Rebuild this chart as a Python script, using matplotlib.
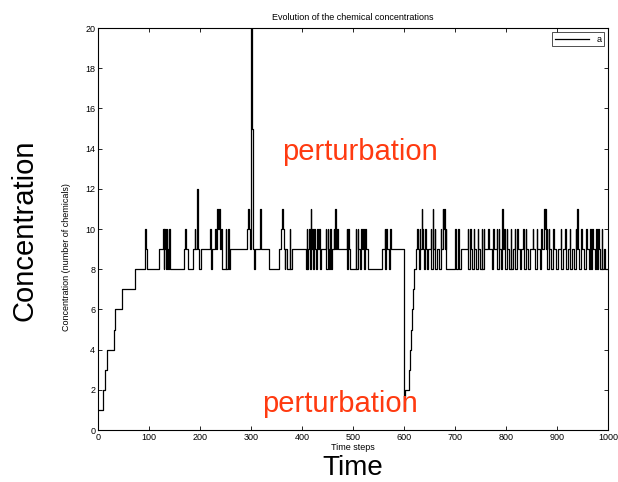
import matplotlib
matplotlib.use('Agg')
import matplotlib.pyplot as plt

plt.rcParams['font.family'] = ['Liberation Sans', 'DejaVu Sans']

# time step where a new concentration level starts, and that level
change_t = [0, 10, 13, 17, 32, 34, 47, 72, 93, 95, 97, 120, 128, 129, 130, 132, 133, 134, 135, 136,
            137, 139, 141, 169, 171, 172, 176, 186, 190, 191, 194, 197, 199, 201, 219, 221, 223, 230, 232, 234,
            236, 238, 239, 241, 243, 250, 251, 254, 256, 259, 292, 294, 296, 298, 300, 302, 304, 306, 308, 318,
            320, 335, 355, 359, 361, 362, 364, 366, 367, 370, 376, 377, 380, 407, 409, 410, 412, 414, 415, 417,
            418, 420, 421, 424, 425, 428, 430, 431, 434, 435, 437, 447, 448, 450, 451, 453, 455, 456, 459, 462,
            463, 465, 467, 469, 470, 488, 489, 491, 492, 494, 500, 505, 506, 509, 510, 513, 516, 517, 520, 521,
            524, 525, 530, 557, 562, 563, 565, 566, 570, 573, 574, 600, 602, 610, 612, 614, 616, 618, 620, 623,
            626, 627, 629, 631, 632, 635, 636, 638, 640, 642, 643, 646, 648, 652, 653, 656, 657, 660, 661, 664,
            668, 672, 673, 676, 677, 679, 680, 682, 683, 688, 700, 701, 706, 707, 712, 725, 726, 730, 731, 734,
            737, 738, 742, 745, 746, 749, 752, 753, 756, 757, 765, 766, 772, 775, 776, 782, 783, 786, 787, 790,
            793, 794, 797, 798, 801, 802, 806, 809, 810, 813, 817, 818, 822, 823, 827, 830, 834, 835, 839, 840,
            844, 848, 852, 853, 857, 860, 861, 866, 869, 870, 874, 876, 877, 878, 880, 881, 884, 885, 889, 893,
            894, 898, 902, 907, 908, 912, 916, 917, 921, 925, 926, 930, 934, 937, 938, 940, 941, 944, 948, 949,
            953, 957, 958, 962, 965, 966, 969, 970, 974, 977, 978, 981, 982, 985, 988, 989, 992, 995, 1000]
change_c = [1, 2, 3, 4, 5, 6, 7, 8, 10, 9, 8, 9, 10, 8, 10, 9, 10, 8, 10, 9,
            8, 10, 8, 9, 10, 9, 8, 9, 10, 9, 12, 9, 8, 9, 10, 8, 9, 10, 9, 11,
            10, 11, 9, 10, 8, 10, 8, 10, 8, 9, 10, 11, 10, 9, 20, 15, 9, 8, 9, 11,
            9, 8, 9, 10, 11, 10, 9, 8, 9, 8, 10, 8, 9, 8, 10, 8, 9, 10, 8, 11,
            9, 10, 8, 10, 9, 8, 10, 9, 10, 8, 9, 10, 8, 10, 9, 8, 10, 8, 9, 10,
            9, 11, 9, 10, 9, 10, 8, 10, 9, 8, 8, 10, 8, 10, 9, 8, 10, 9, 10, 8,
            10, 9, 8, 9, 10, 8, 10, 9, 8, 10, 9, 1, 2, 3, 4, 5, 6, 7, 8, 9,
            10, 9, 8, 10, 9, 11, 10, 9, 8, 10, 9, 8, 9, 10, 8, 11, 9, 10, 8, 9,
            8, 10, 9, 11, 10, 11, 9, 10, 8, 8, 10, 8, 10, 8, 9, 10, 8, 10, 9, 8,
            10, 9, 8, 10, 9, 8, 10, 8, 10, 9, 10, 9, 8, 10, 9, 10, 8, 10, 9, 8,
            11, 9, 10, 8, 10, 9, 8, 10, 8, 9, 10, 8, 10, 9, 8, 9, 10, 8, 10, 9,
            8, 9, 10, 9, 8, 10, 9, 8, 10, 9, 11, 10, 11, 9, 10, 8, 10, 9, 8, 10,
            9, 8, 9, 10, 8, 9, 10, 8, 9, 10, 8, 9, 8, 10, 9, 11, 9, 8, 10, 9,
            8, 10, 9, 8, 10, 8, 10, 9, 8, 10, 8, 10, 9, 8, 10, 8, 9, 8, 8]

x_ticks = list(range(0, 1001, 100))
y_ticks = list(range(0, 21, 2))

fig = plt.figure(figsize=(6.18, 4.82), dpi=100)
ax = fig.add_axes([98 / 618, 1 - 430 / 482, 510 / 618, 402 / 482])

ax.step(change_t, change_c, where='post', color='black', linewidth=0.9, label='a')

ax.set_xlim(0, 1000)
ax.set_ylim(0, 20)
ax.set_xticks(x_ticks)
ax.set_yticks(y_ticks)
ax.tick_params(direction='in', top=True, right=True, labelsize=6.5, length=3, width=0.6, pad=2)
for s in ax.spines.values():
    s.set_linewidth(0.8)

ax.set_title('Evolution of the chemical concentrations', fontsize=6.5, pad=6)
ax.set_xlabel('Time steps', fontsize=6.5, labelpad=1)
ax.set_ylabel('Concentration (number of chemicals)', fontsize=6.5)
ax.yaxis.set_label_coords(-0.052, 0.43)

leg = ax.legend(loc='upper right', fontsize=6.5, frameon=True, fancybox=False,
                edgecolor='black', handlelength=3.8, borderpad=0.3, borderaxespad=0.45)
leg.get_frame().set_linewidth(0.6)

# big annotations laid over the figure
red = '#ff3a10'
fig.text(282 / 618, 1 - 152 / 482, 'perturbation', color=red, fontsize=21, ha='left', va='center')
fig.text(262 / 618, 1 - 404 / 482, 'perturbation', color=red, fontsize=21, ha='left', va='center')
fig.text(25 / 618, 1 - 230 / 482, 'Concentration', fontsize=21, rotation=90, ha='center', va='center')
fig.text(353 / 618, 1 - 468 / 482, 'Time', fontsize=20, ha='center', va='center')

fig.savefig('out.png', dpi=100)
